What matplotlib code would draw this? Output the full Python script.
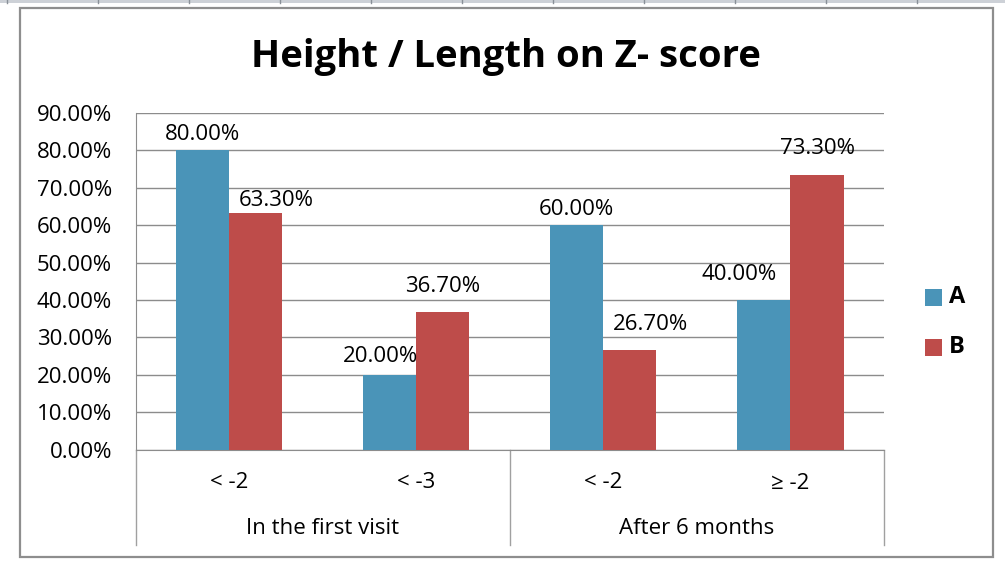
import matplotlib
matplotlib.use("Agg")
import matplotlib.pyplot as plt
from matplotlib.patches import Rectangle
from matplotlib.lines import Line2D

# chart values
groups = ["In the first visit", "After 6 months"]
sub_labels = ["< -2", "< -3", "< -2", "≥ -2"]
series_a = [80.0, 20.0, 60.0, 40.0]
series_b = [63.3, 36.7, 26.7, 73.3]
series_names = ["A", "B"]
y_ticks = [0, 10, 20, 30, 40, 50, 60, 70, 80, 90]

# hand-placed data label nudges (pixels): (dx, gap above bar)
label_nudge_a = [(0, 8), (-9.5, 10.5), (-0.5, 8.5), (-25, 17.5)]
label_nudge_b = [(21, 5), (-0.5, 18), (21, 18), (0, 19)]

color_a = "#4A94B8"
color_b = "#BE4C4A"
grid_color = "#8C8C8C"

plt.rcParams['font.family'] = ['Open Sans', 'DejaVu Sans']

W, H = 1005, 573
fig = plt.figure(figsize=(W / 100, H / 100), dpi=100)
fig.patch.set_facecolor("white")

# spreadsheet header strip at the top
fig.patches.append(Rectangle((0, 1 - 3 / H), 1, 3 / H, transform=fig.transFigure,
                             facecolor="#CDD1D7", edgecolor="none"))
for xp in range(7, W, 91):
    fig.lines.append(Line2D([xp / W, xp / W], [1 - 3 / H, 1], transform=fig.transFigure,
                            color="#8A9098", lw=1))

# chart border
fig.patches.append(Rectangle((20 / W, 1 - 557 / H), (993 - 20) / W, (557 - 8) / H,
                             transform=fig.transFigure, facecolor="none",
                             edgecolor="#8E8E8E", lw=1.6))

left, right = 135.5, 884
y0, y90 = 449.5, 113
ax = fig.add_axes([left / W, 1 - y0 / H, (right - left) / W, (y0 - y90) / H])

x = list(range(len(sub_labels)))
w = 0.284
xa = [i - w / 2 for i in x]
xb = [i + w / 2 for i in x]
ax.bar(xa, series_a, width=w, color=color_a, zorder=3)
ax.bar(xb, series_b, width=w, color=color_b, zorder=3)

px2pt = 0.72
for xs, vals, nudges in ((xa, series_a, label_nudge_a), (xb, series_b, label_nudge_b)):
    for xi, v, (dx, gap) in zip(xs, vals, nudges):
        ax.annotate(f"{v:.2f}%", (xi, v), xytext=(dx * px2pt, (gap - 3) * px2pt),
                    textcoords="offset points", ha="center", va="bottom",
                    fontsize=16, zorder=4)

ax.set_xlim(-0.5, len(sub_labels) - 0.5)
ax.set_ylim(0, 90)
ax.set_yticks(y_ticks)
ax.set_yticklabels([f"{t:.2f}%" for t in y_ticks], fontsize=16)
ax.tick_params(axis="y", length=0, pad=17)
ax.set_xticks([])
ax.grid(axis="y", color=grid_color, lw=1, zorder=0)
for s in ("top", "right"):
    ax.spines[s].set_visible(False)
ax.spines["left"].set_color(grid_color)
ax.spines["bottom"].set_color(grid_color)

# two-level category axis
xt = ax.get_xaxis_transform()
depth = -(545 - y0) / (y0 - y90)
for xl in (-0.5, 1.5, 3.5):
    ax.plot([xl, xl], [0, depth], transform=xt, color="#A0A0A0", lw=1, clip_on=False)
for i, lab in enumerate(sub_labels):
    ax.text(i, -(483 - y0) / (y0 - y90), lab, transform=xt, ha="center", va="center",
            fontsize=16)
for g, lab in enumerate(groups):
    ax.text(2 * g + 0.5, -(529 - y0) / (y0 - y90), lab, transform=xt, ha="center",
            va="center", fontsize=16)

# legend
for name, col, yp in ((series_names[0], color_a, 297), (series_names[1], color_b, 347)):
    fig.patches.append(Rectangle((925 / W, 1 - (yp + 8.5) / H), 17 / W, 17 / H,
                                 transform=fig.transFigure, facecolor=col, edgecolor="none"))
    fig.text(949 / W, 1 - yp / H, name, ha="left", va="center", fontsize=17,
             fontweight="bold")

fig.text(506 / W, 1 - 57 / H, "Height / Length on Z- score", ha="center", va="center",
         fontsize=27.5, fontweight="bold")

fig.savefig("out.png", dpi=100)
